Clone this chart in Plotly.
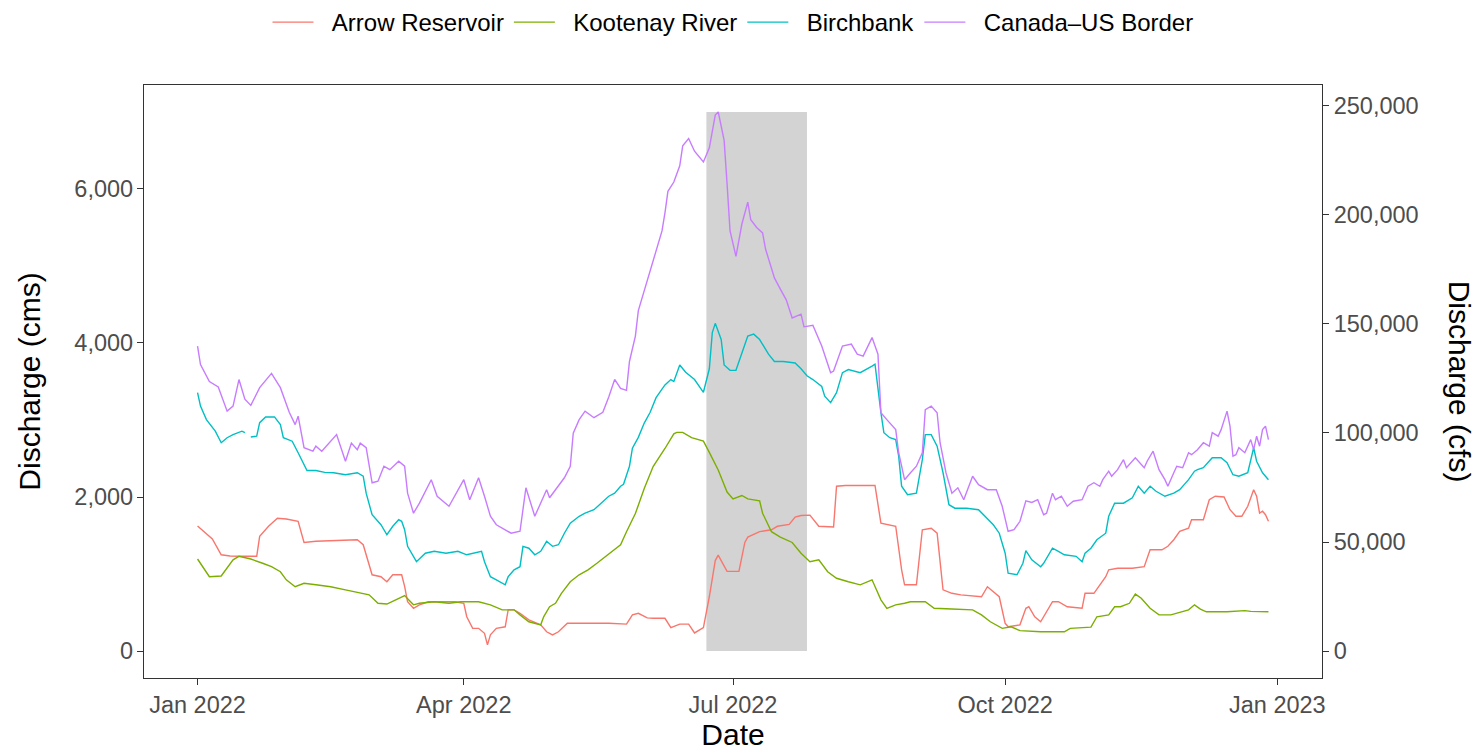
import pandas as pd
import plotly.graph_objects as go

# Daily discharge (cms) by day offset from 2022-01-01
START = pd.Timestamp("2022-01-01")

arrow_day = [0, 2, 5, 8, 11, 14, 20, 21, 24, 27, 30, 34, 36, 40, 47, 54, 56, 57, 59, 62, 64, 66, 69, 70, 71, 73, 75, 78, 82, 87,
             90, 91, 93, 95, 97, 98, 99, 101, 104, 105, 107, 109, 112, 116, 118, 120, 122, 125, 132, 139, 145, 147, 149, 152, 154, 158,
             160, 163, 166, 168, 171, 173, 175, 176, 177, 179, 181, 183, 185, 186, 190, 194, 196, 200, 202, 204, 207, 210, 215, 216,
             219, 229, 231, 236, 238, 239, 243, 245, 248, 250, 252, 255, 258, 265, 267, 269, 271, 273, 274, 278, 280, 281, 283, 285,
             287, 289, 291, 294, 299, 300, 303, 307, 308, 311, 316, 320, 322, 326, 328, 330, 332, 335, 336, 340, 342, 344, 347, 349,
             351, 353, 355, 357, 358, 359, 360, 361, 362]
arrow_cms = [1625, 1555, 1455, 1250, 1235, 1230, 1230, 1490, 1620, 1725, 1715, 1685, 1410, 1425, 1435, 1445, 1380, 1250, 990, 965,
             900, 990, 990, 840, 640, 555, 600, 640, 640, 640, 620, 445, 295, 295, 230, 80, 210, 295, 315, 535, 535, 490, 405, 340,
             250, 210, 250, 360, 360, 360, 350, 470, 490, 430, 425, 425, 305, 350, 350, 235, 305, 705, 1175, 1245, 1175, 1035, 1035,
             1035, 1410, 1480, 1550, 1575, 1620, 1645, 1740, 1760, 1765, 1620, 1610, 2140, 2150, 2150, 1660, 1620, 1055, 860, 860,
             1575, 1595, 1530, 795, 750, 730, 705, 835, 770, 705, 360, 315, 340, 555, 575, 445, 380, 510, 640, 640, 575, 555, 750,
             750, 965, 1055, 1075, 1075, 1095, 1315, 1315, 1360, 1445, 1555, 1595, 1705, 1705, 1965, 2010, 2000, 1835, 1750, 1750,
             1880, 2095, 2010, 1790, 1815, 1770, 1685]

kootenay_day = [0, 2, 4, 8, 10, 12, 14, 18, 22, 25, 28, 30, 33, 36, 40, 45, 50, 54, 58, 61, 64, 67, 69, 70, 72, 73, 75, 80, 85, 89,
                95, 99, 103, 107, 109, 112, 116, 117, 119, 121, 123, 126, 129, 132, 135, 140, 143, 145, 148, 151, 154, 158, 161, 162,
                164, 167, 171, 173, 176, 179, 181, 184, 186, 190, 191, 194, 197, 201, 204, 207, 210, 213, 216, 220, 224, 228, 231,
                233, 236, 239, 241, 246, 249, 255, 262, 265, 268, 272, 275, 278, 285, 293, 295, 302, 304, 308, 310, 312, 315, 317,
                319, 322, 325, 329, 333, 335, 337, 339, 341, 348, 354, 356, 362]
kootenay_cms = [1195, 1075, 965, 975, 1075, 1185, 1230, 1195, 1140, 1095, 1030, 925, 835, 880, 860, 835, 795, 760, 730, 620, 610,
                665, 705, 720, 640, 600, 620, 640, 620, 640, 640, 600, 535, 535, 470, 380, 340, 445, 575, 620, 750, 900, 990, 1055,
                1140, 1290, 1380, 1550, 1785, 2110, 2395, 2630, 2820, 2840, 2840, 2770, 2725, 2580, 2350, 2065, 1975, 2020, 1975,
                1950, 1790, 1550, 1480, 1410, 1270, 1160, 1185, 1030, 945, 900, 860, 925, 665, 555, 600, 620, 640, 640, 555, 545,
                535, 470, 380, 295, 315, 265, 250, 250, 295, 310, 445, 470, 575, 575, 620, 740, 685, 555, 470, 470, 510, 535, 600,
                545, 510, 510, 525, 515, 510]

# None marks the short gap in the Birchbank record
birchbank_day = [0, 1, 3, 6, 8, 10, 12, 15, 16, 17, 18, 20, 21, 23, 26, 28, 29, 32, 34, 37, 40, 43, 46, 50, 54, 56, 57, 59, 62, 64,
                 66, 68, 69, 70, 71, 73, 74, 77, 80, 84, 88, 91, 93, 96, 97, 99, 101, 104, 105, 107, 109, 110, 112, 114, 116, 118,
                 120, 122, 124, 126, 129, 131, 134, 136, 139, 141, 143, 144, 146, 147, 149, 151, 153, 155, 158, 160, 161, 163, 165,
                 168, 171, 173, 174, 175, 177, 178, 180, 182, 184, 186, 188, 190, 193, 195, 198, 202, 204, 206, 208, 211, 212, 214,
                 216, 218, 220, 224, 228, 229, 231, 232, 234, 236, 237, 238, 240, 243, 245, 246, 248, 250, 252, 254, 256, 260, 264,
                 267, 269, 271, 273, 274, 277, 279, 280, 282, 285, 286, 289, 291, 293, 297, 299, 300, 302, 304, 307, 308, 310, 313,
                 316, 318, 320, 322, 324, 327, 330, 332, 335, 337, 338, 340, 343, 346, 348, 350, 352, 355, 356, 357, 358, 360, 361,
                 362]
birchbank_cms = [3355, 3180, 3005, 2855, 2705, 2770, 2810, 2855, 2835, None, 2780, 2790, 2965, 3040, 3040, 2940, 2770, 2725, 2575,
                 2345, 2345, 2320, 2315, 2290, 2315, 2270, 2050, 1770, 1640, 1510, 1620, 1705, 1685, 1575, 1360, 1230, 1160, 1270,
                 1295, 1270, 1295, 1250, 1270, 1295, 1160, 965, 925, 860, 965, 1055, 1095, 1360, 1335, 1250, 1295, 1425, 1360, 1380,
                 1530, 1660, 1750, 1790, 1835, 1910, 2010, 2050, 2140, 2165, 2400, 2635, 2775, 2960, 3100, 3290, 3455, 3525, 3500,
                 3715, 3620, 3525, 3360, 3665, 4135, 4255, 4045, 3715, 3645, 3645, 3855, 4090, 4115, 4045, 3855, 3760, 3760, 3740,
                 3665, 3575, 3525, 3435, 3310, 3225, 3355, 3615, 3655, 3615, 3700, 3725, 3095, 2835, 2770, 2745, 2530, 2140, 2030,
                 2050, 2485, 2810, 2810, 2660, 2315, 1900, 1855, 1855, 1835, 1725, 1640, 1530, 1270, 1010, 990, 1140, 1305, 1185,
                 1095, 1140, 1335, 1295, 1250, 1230, 1160, 1270, 1335, 1445, 1530, 1750, 1920, 1920, 1990, 2140, 2050, 2140, 2075,
                 2010, 2050, 2095, 2225, 2335, 2355, 2380, 2510, 2510, 2445, 2290, 2270, 2315, 2485, 2640, 2465, 2315, 2270, 2225]

border_day = [0, 1, 4, 6, 7, 10, 12, 14, 16, 18, 21, 25, 28, 31, 33, 34, 36, 39, 40, 42, 47, 50, 52, 54, 55, 57, 59, 61, 63, 65,
              68, 70, 71, 73, 75, 79, 81, 85, 90, 92, 95, 97, 99, 101, 106, 109, 111, 114, 118, 119, 122, 124, 126, 127, 129, 131,
              134, 137, 139, 141, 143, 145, 146, 148, 149, 151, 153, 154, 157, 158, 159, 161, 163, 164, 166, 168, 171, 173, 175,
              176, 178, 179, 180, 182, 184, 186, 187, 189, 191, 192, 195, 197, 199, 201, 204, 205, 208, 211, 214, 215, 218, 221,
              223, 225, 228, 230, 231, 233, 236, 237, 239, 241, 243, 245, 246, 248, 250, 251, 253, 255, 257, 259, 262, 264, 267,
              270, 272, 274, 276, 278, 280, 282, 284, 286, 287, 289, 290, 292, 294, 296, 299, 301, 303, 305, 306, 308, 309, 311,
              313, 314, 316, 317, 320, 321, 323, 325, 327, 328, 330, 331, 333, 335, 336, 338, 340, 342, 343, 345, 346, 348, 349,
              350, 351, 352, 354, 356, 357, 358, 359, 360, 361, 362]
border_cms = [3960, 3720, 3500, 3460, 3430, 3115, 3180, 3525, 3270, 3190, 3420, 3605, 3420, 3100, 2940, 3050, 2640, 2595, 2660,
              2595, 2810, 2465, 2700, 2615, 2700, 2640, 2185, 2205, 2400, 2355, 2465, 2400, 2050, 1790, 1920, 2225, 2010, 1880,
              2225, 1965, 2250, 2010, 1750, 1640, 1530, 1555, 2120, 1750, 2095, 1990, 2140, 2250, 2400, 2830, 3005, 3115, 3030,
              3100, 3300, 3527, 3410, 3385, 3760, 4090, 4420, 4680, 4940, 5080, 5455, 5690, 5970, 6090, 6300, 6560, 6655, 6490,
              6350, 6535, 6960, 7000, 6630, 6065, 5455, 5125, 5545, 5830, 5600, 5500, 5430, 5220, 4845, 4700, 4560, 4325, 4375,
              4210, 4230, 3960, 3615, 3635, 3960, 3985, 3855, 3830, 4070, 3855, 3095, 3005, 2875, 2575, 2225, 2315, 2400, 2575,
              3135, 3180, 3095, 2705, 2315, 2050, 2120, 1965, 2270, 2160, 2095, 2095, 1880, 1555, 1575, 1685, 1950, 1930, 1965,
              1770, 1790, 2050, 1965, 2010, 1880, 1945, 1965, 2140, 2185, 2140, 2225, 2335, 2270, 2355, 2485, 2380, 2465, 2510,
              2380, 2465, 2595, 2355, 2225, 2140, 2315, 2400, 2380, 2575, 2550, 2615, 2705, 2660, 2835, 2790, 2875, 3115, 2920,
              2530, 2550, 2640, 2575, 2745, 2615, 2790, 2660, 2875, 2920, 2745]

series_names = ["Arrow Reservoir", "Kootenay River", "Birchbank", "Canada\u2013US Border"]
series_days = [arrow_day, kootenay_day, birchbank_day, border_day]
series_cms = [arrow_cms, kootenay_cms, birchbank_cms, border_cms]
series_colors = ["#F8766D", "#7CAE00", "#00BFC4", "#C77CFF"]

# Highlighted window
window_start = "2022-06-22"
window_end = "2022-07-26"

CMS_TO_CFS = 35.3147
tick_dates = ["2022-01-01", "2022-04-01", "2022-07-01", "2022-10-01", "2023-01-01"]
cms_ticks = [0, 2000, 4000, 6000]
cfs_ticks = [0, 50000, 100000, 150000, 200000, 250000]

FONT = "Liberation Sans, Arial, sans-serif"
TICK_SIZE = 23.5
TITLE_SIZE = 30
KEY_PAD = "\u00a0\u00a0"  # extra room between legend key and label


def to_dates(days):
    return START + pd.to_timedelta(days, unit="D")


fig = go.Figure()

for name, days, vals, col in zip(series_names, series_days, series_cms, series_colors):
    fig.add_trace(go.Scatter(
        x=to_dates(days), y=vals, mode="lines", name=KEY_PAD + name,
        line=dict(color=col, width=1.4), connectgaps=False,
    ))

# cfs scale on the secondary axis (transparent copy of the border series)
fig.add_trace(go.Scatter(
    x=to_dates(border_day), y=[v * CMS_TO_CFS for v in border_cms], yaxis="y2",
    mode="lines", line=dict(width=0), opacity=0, showlegend=False, hoverinfo="skip",
))

peak = max(v for v in border_cms if v is not None)
fig.add_shape(type="rect", xref="x", yref="y", x0=window_start, x1=window_end, y0=0, y1=peak,
              fillcolor="#D3D3D3", line=dict(width=0), layer="below")

all_days = [d for ds in series_days for d in ds]
span = max(all_days) - min(all_days)
x_lo = START + pd.Timedelta(days=min(all_days) - 0.05 * span)
x_hi = START + pd.Timedelta(days=max(all_days) + 0.05 * span)
y_lo = -0.05 * peak
y_hi = peak * 1.05

axis_common = dict(
    showgrid=False, zeroline=False, showline=True, mirror=True, automargin=False,
    linecolor="#333333", linewidth=1.3,
    ticks="outside", ticklen=6, tickwidth=1.3, tickcolor="#333333",
    tickfont=dict(family=FONT, size=TICK_SIZE, color="#4D4D4D"),
)

fig.update_layout(
    width=1480, height=751,
    margin=dict(l=144, r=158, t=85, b=73),
    paper_bgcolor="white", plot_bgcolor="white",
    font=dict(family=FONT, color="black"),
    xaxis=dict(
        **axis_common, type="date", range=[x_lo, x_hi],
        tickvals=tick_dates, tickformat="%b %Y", ticklabelstandoff=0,
        title=dict(text="Date", font=dict(family=FONT, size=TITLE_SIZE, color="black"), standoff=10),
    ),
    yaxis=dict(
        **axis_common, range=[y_lo, y_hi], tickvals=cms_ticks, tickformat=",", ticklabelstandoff=-1,
        title=dict(text="Discharge (cms)", font=dict(family=FONT, size=TITLE_SIZE, color="black"), standoff=24),
    ),
    yaxis2=dict(
        overlaying="y", side="right", range=[y_lo * CMS_TO_CFS, y_hi * CMS_TO_CFS], automargin=False,
        tickvals=cfs_ticks, tickformat=",", showgrid=False, zeroline=False, showline=False,
        ticks="outside", ticklen=6, tickwidth=1.3, tickcolor="#333333",
        tickfont=dict(family=FONT, size=TICK_SIZE, color="#4D4D4D"),
    ),
    legend=dict(
        orientation="h", x=0.5, xanchor="center", yref="container", y=1.0, yanchor="top",
        itemwidth=41, font=dict(family=FONT, size=24, color="black"), bgcolor="rgba(0,0,0,0)",
    ),
    annotations=[dict(
        text="Discharge (cfs)", xref="paper", yref="paper", x=1.117, y=0.5,
        xanchor="center", yanchor="middle", textangle=90, showarrow=False,
        font=dict(family=FONT, size=TITLE_SIZE, color="black"),
    )],
)

fig.write_html("out.html")
